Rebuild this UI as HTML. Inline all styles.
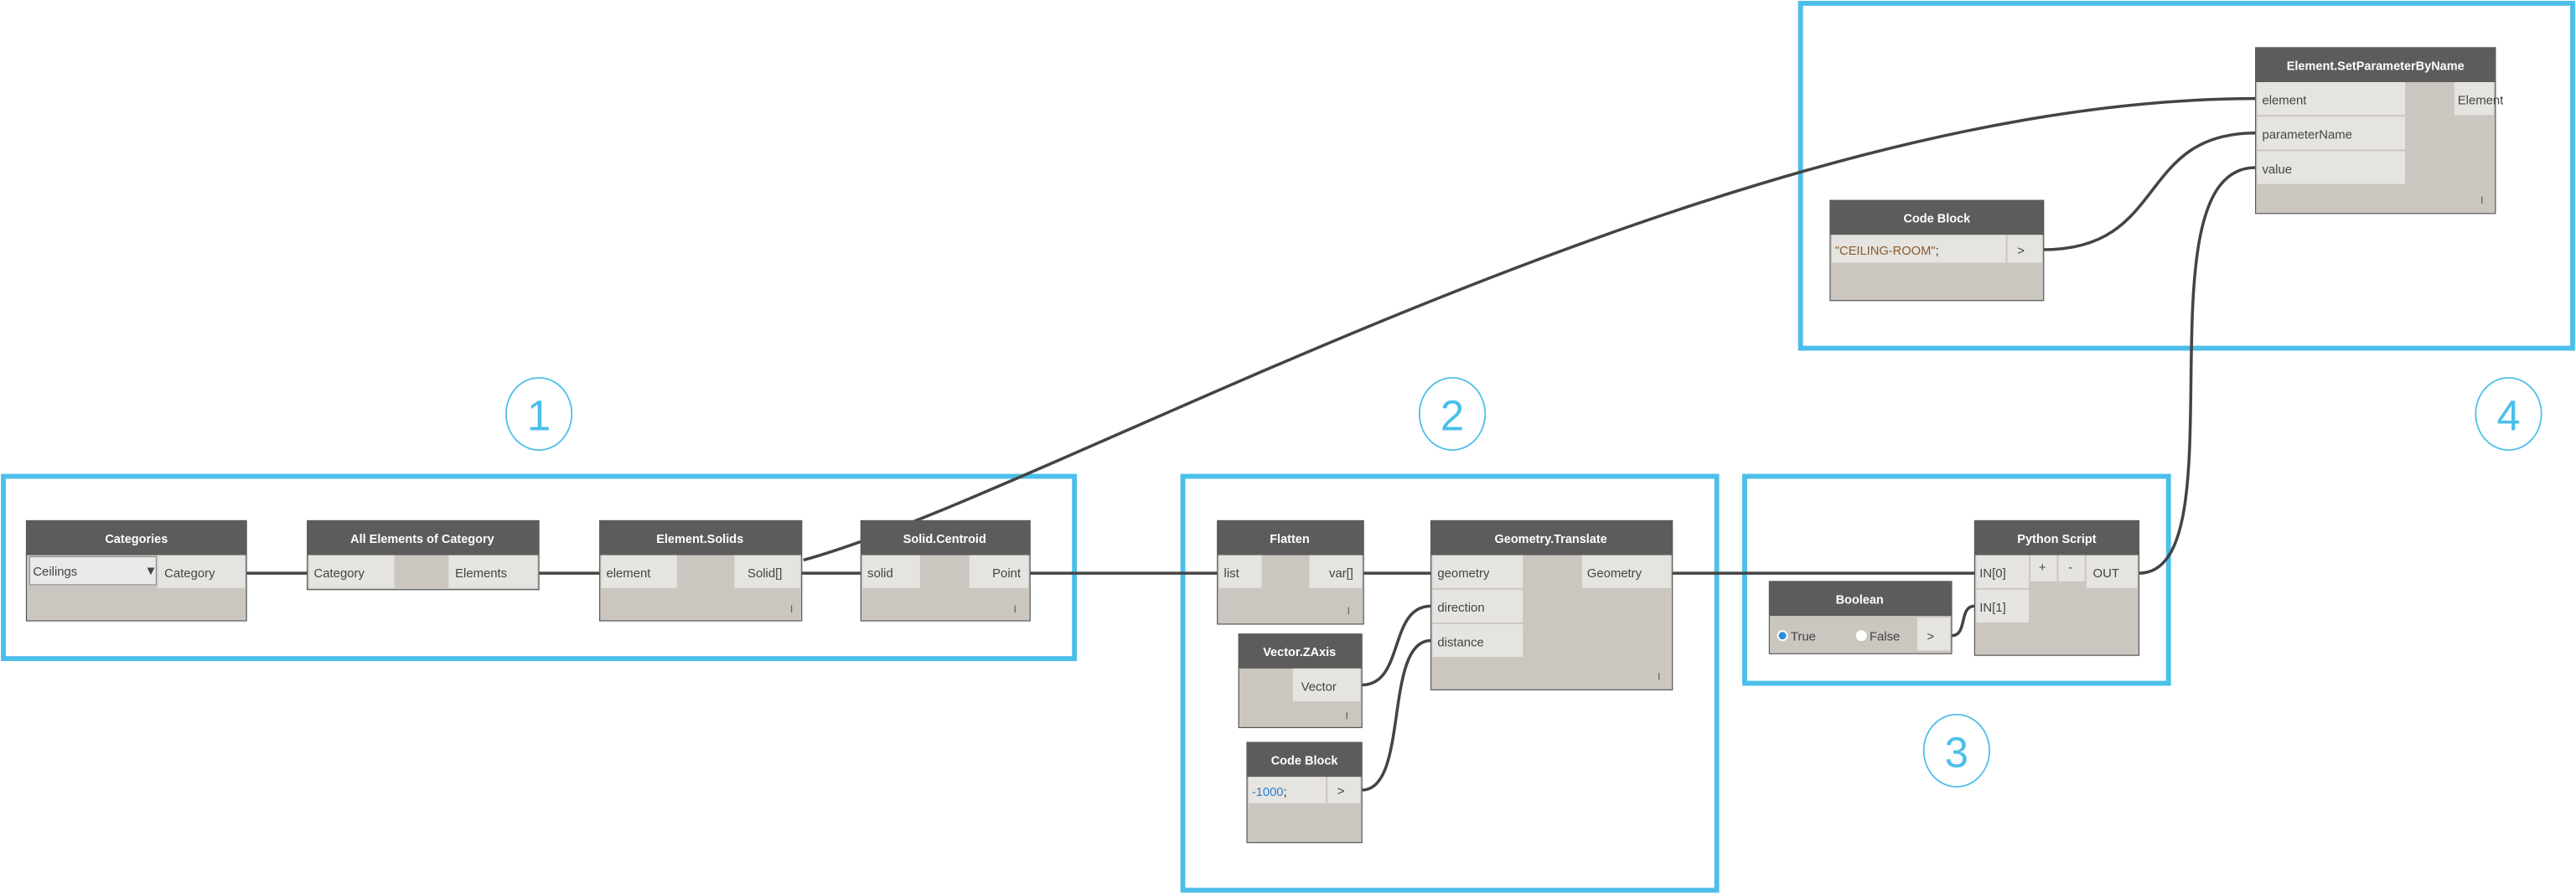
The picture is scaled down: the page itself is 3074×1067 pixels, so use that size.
<!DOCTYPE html>
<html><head><meta charset="utf-8"><style>
html,body{margin:0;padding:0;background:#fff;}
svg{display:block;}
text{font-family:"Liberation Sans Narrow","Liberation Sans",sans-serif;}
.h{fill:#5e5c5a}
.b{fill:#cbc7c0;stroke:#555;stroke-width:.6}
.p{fill:#e6e4e0}
.ht{fill:#fff;font-size:7.4px;font-weight:bold;text-anchor:middle}
.pt{fill:#444;font-size:7.6px}
.w{fill:none;stroke:#444;stroke-width:1.8}
.box{fill:none;stroke:#4bbfe9;stroke-width:3}
.num{fill:#4bbfe9;font-size:26px;text-anchor:middle;font-family:"Liberation Sans",sans-serif}
.circ{fill:none;stroke:#4bbfe9;stroke-width:.9}
.tick{fill:#555;font-size:6px}
</style></head><body>
<svg width="3074" height="1067" viewBox="0 0 1568 544.3" xmlns="http://www.w3.org/2000/svg">
<rect class="box" x="2" y="290" width="652" height="111"/>
<rect class="box" x="720" y="290" width="325" height="252"/>
<rect class="box" x="1062" y="290" width="258" height="126"/>
<rect class="box" x="1096" y="2" width="470" height="210"/>
<ellipse class="circ" cx="328" cy="252" rx="20" ry="22"/><text class="num" x="328" y="262">1</text>
<ellipse class="circ" cx="884" cy="252" rx="20" ry="22"/><text class="num" x="884" y="262">2</text>
<ellipse class="circ" cx="1191" cy="457" rx="20" ry="22"/><text class="num" x="1191" y="467">3</text>
<ellipse class="circ" cx="1527" cy="252" rx="20" ry="22"/><text class="num" x="1527" y="262">4</text>
<path class="w" d="M150,349 L187,349"/>
<path class="w" d="M328,349 L365,349"/>
<path class="w" d="M488,349 L524,349"/>
<path class="w" d="M627,349 L741,349"/>
<path class="w" d="M489,341 C640,300 1050,60 1373,60"/>
<path class="w" d="M830,349 L871,349"/>
<path class="w" d="M829,417 C855,417 845,369 871,369"/>
<path class="w" d="M829,481 C858,481 842,390 871,390"/>
<path class="w" d="M1018,349 L1202,349"/>
<path class="w" d="M1188,387 C1198,387 1192,369 1202,369"/>
<path class="w" d="M1302,349 C1365,349 1300,102 1373,102"/>
<path class="w" d="M1244,152 C1320,152 1300,81 1373,81"/>

<rect class="b" x="16" y="317" width="134" height="61"/>
<rect class="h" x="16" y="317" width="134" height="21"/>
<text class="ht" x="83" y="330.5">Categories</text>
<rect x="18" y="339" width="77" height="17" fill="#e9e9e9" stroke="#888" stroke-width=".5"/>
<text class="pt" x="20" y="350.5">Ceilings</text><text class="pt" x="88" y="350" font-size="4">▼</text>
<rect class="p" x="96" y="338" width="53" height="20"/>
<text class="pt" x="100" y="351.5">Category</text>
<rect class="b" x="187" y="317" width="141" height="42"/>
<rect class="h" x="187" y="317" width="141" height="21"/>
<text class="ht" x="257" y="330.5">All Elements of Category</text>
<rect class="p" x="188" y="338" width="52" height="20"/>
<rect class="p" x="273" y="338" width="54" height="20"/>
<text class="pt" x="191" y="351.5">Category</text><text class="pt" x="277" y="351.5">Elements</text>
<rect class="b" x="365" y="317" width="123" height="61"/>
<rect class="h" x="365" y="317" width="123" height="21"/>
<text class="ht" x="426" y="330.5">Element.Solids</text>
<rect class="p" x="366" y="338" width="46" height="20"/>
<rect class="p" x="447" y="338" width="40" height="20"/>
<text class="pt" x="369" y="351.5">element</text><text class="pt" x="455" y="351.5">Solid[]</text>
<text class="tick" x="481" y="373">I</text>
<rect class="b" x="524" y="317" width="103" height="61"/>
<rect class="h" x="524" y="317" width="103" height="21"/>
<text class="ht" x="575" y="330.5">Solid.Centroid</text>
<rect class="p" x="525" y="338" width="35" height="20"/>
<rect class="p" x="590" y="338" width="36" height="20"/>
<text class="pt" x="528" y="351.5">solid</text><text class="pt" x="604" y="351.5">Point</text>
<text class="tick" x="617" y="373">I</text>
<rect class="b" x="741" y="317" width="89" height="63"/>
<rect class="h" x="741" y="317" width="89" height="21"/>
<text class="ht" x="785" y="330.5">Flatten</text>
<rect class="p" x="742" y="338" width="26" height="20"/>
<rect class="p" x="797" y="338" width="32" height="20"/>
<text class="pt" x="745" y="351.5">list</text><text class="pt" x="809" y="351.5">var[]</text>
<text class="tick" x="820" y="374">I</text>
<rect class="b" x="871" y="317" width="147" height="103"/>
<rect class="h" x="871" y="317" width="147" height="21"/>
<text class="ht" x="944" y="330.5">Geometry.Translate</text>
<rect class="p" x="872" y="338" width="55" height="20"/>
<rect class="p" x="872" y="359" width="55" height="20"/>
<rect class="p" x="872" y="380" width="55" height="20"/>
<rect class="p" x="963" y="338" width="54" height="20"/>
<text class="pt" x="875" y="351.5">geometry</text><text class="pt" x="875" y="372.5">direction</text><text class="pt" x="875" y="393.5">distance</text>
<text class="pt" x="966" y="351.5">Geometry</text>
<text class="tick" x="1009" y="414">I</text>
<rect class="b" x="754" y="386" width="75" height="57"/>
<rect class="h" x="754" y="386" width="75" height="21"/>
<text class="ht" x="791" y="399.5">Vector.ZAxis</text>
<rect class="p" x="787" y="407" width="41" height="20"/>
<text class="pt" x="792" y="420.5">Vector</text>
<text class="tick" x="819" y="438">I</text>
<rect class="b" x="759" y="452" width="70" height="61"/>
<rect class="h" x="759" y="452" width="70" height="21"/>
<text class="ht" x="794" y="465.5">Code Block</text>
<rect class="p" x="760" y="473" width="47" height="16"/>
<rect class="p" x="808" y="473" width="20" height="16"/>
<text x="762" y="484.5" font-family="Liberation Mono,monospace" font-size="7.5" fill="#2a7fd4">-1000<tspan fill="#333">;</tspan></text>
<text class="pt" x="814" y="484">&gt;</text>
<rect class="b" x="1077" y="354" width="111" height="44"/>
<rect class="h" x="1077" y="354" width="111" height="21"/>
<text class="ht" x="1132" y="367.5">Boolean</text>
<circle cx="1085" cy="387" r="3.3" fill="#fff"/><circle cx="1085" cy="387" r="2.3" fill="#2a8fd8"/>
<text class="pt" x="1090" y="390">True</text>
<circle cx="1133" cy="387" r="3.3" fill="#fff"/>
<text class="pt" x="1138" y="390">False</text>
<rect class="p" x="1167" y="376" width="20" height="20"/>
<text class="pt" x="1173" y="390">&gt;</text>
<rect class="b" x="1202" y="317" width="100" height="82"/>
<rect class="h" x="1202" y="317" width="100" height="21"/>
<text class="ht" x="1252" y="330.5">Python Script</text>
<rect class="p" x="1203" y="338" width="32" height="20"/>
<rect class="p" x="1236" y="338" width="16" height="16"/>
<rect class="p" x="1253" y="338" width="16" height="16"/>
<rect class="p" x="1270" y="338" width="31" height="20"/>
<rect class="p" x="1203" y="359" width="32" height="20"/>
<text class="pt" x="1205" y="351.5">IN[0]</text><text class="pt" x="1241" y="348">+</text><text class="pt" x="1259" y="348">-</text>
<text class="pt" x="1274" y="351.5">OUT</text><text class="pt" x="1205" y="372.5">IN[1]</text>
<rect class="b" x="1373" y="29" width="146" height="101"/>
<rect class="h" x="1373" y="29" width="146" height="21"/>
<text class="ht" x="1446" y="42.5">Element.SetParameterByName</text>
<rect class="p" x="1374" y="50" width="90" height="20"/>
<rect class="p" x="1374" y="71" width="90" height="20"/>
<rect class="p" x="1374" y="92" width="90" height="20"/>
<rect class="p" x="1494" y="50" width="24" height="20"/>
<text class="pt" x="1377" y="63.5">element</text><text class="pt" x="1377" y="84.5">parameterName</text><text class="pt" x="1377" y="105.5">value</text>
<text class="pt" x="1496" y="63.5" font-size="7">Element</text>
<text class="tick" x="1510" y="124">I</text>
<rect class="b" x="1114" y="122" width="130" height="61"/>
<rect class="h" x="1114" y="122" width="130" height="21"/>
<text class="ht" x="1179" y="135.5">Code Block</text>
<rect class="p" x="1115" y="143" width="106" height="17"/>
<rect class="p" x="1222" y="143" width="21" height="17"/>
<text x="1117" y="155" font-family="Liberation Mono,monospace" font-size="7.5" fill="#8a5a2e">"CEILING-ROOM"<tspan fill="#333">;</tspan></text>
<text class="pt" x="1228" y="155">&gt;</text>
</svg>
</body></html>
